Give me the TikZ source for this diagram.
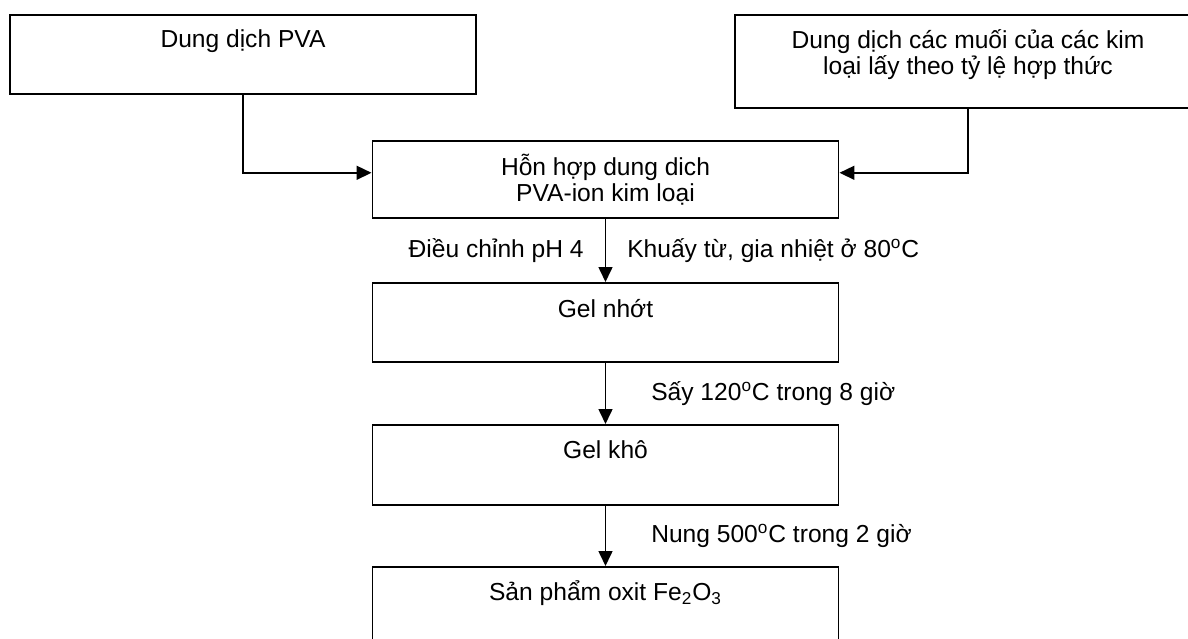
\documentclass[tikz,border=0pt]{standalone}
\usepackage{fontspec}
\setmainfont{Liberation Sans}
\usetikzlibrary{arrows.meta, positioning, calc}

\begin{document}
\begin{tikzpicture}[x=0.02cm, y=-0.02cm, >={Triangle[length=0.3cm, width=0.28cm]},
  every node/.style={font=\fontsize{14}{14.7}\selectfont},
  stage/.style={draw, line width=0.9pt, anchor=north, minimum width=9.33cm,
                inner xsep=0pt, inner ysep=0pt, align=center},
  note/.style={inner sep=0pt},
  flow/.style={->, line width=0.9pt}]
  \useasboundingbox (0,0) rectangle (1188,639);
  \clip (0,0) rectangle (1188,639);
  % inputs
  \node[stage, text height=0.66cm, text depth=0.92cm] (pva) at (243,14) {Dung dịch PVA};
  \node[stage, text height=1.20cm, text depth=0.66cm] (salt) at (968,14)
        {Dung dịch các muối của các kim\\loại lấy theo tỷ lệ hợp thức};
  % process chain
  \node[stage, text height=1.22cm, text depth=0.32cm] (mix) at (605.5,140)
        {Hỗn hợp dung dich\\PVA-ion kim loại};
  \node[stage, text height=0.70cm, text depth=0.88cm] (gel) at (605.5,282) {Gel nhớt};
  \node[stage, text height=0.68cm, text depth=0.92cm] (dry) at (605.5,424) {Gel khô};
  \node[stage, text height=0.68cm, text depth=0.92cm] (oxide) at (605.5,566)
        {Sản phẩm oxit Fe\textsubscript{2}O\textsubscript{3}};
  \draw[flow] (pva.south) |- ([yshift=0.13cm]mix.west);
  \draw[flow] (salt.south) |- ([yshift=0.13cm]mix.east);
  \draw[flow] (mix) -- node[note, midway, left=0.42cm] {Điều chỉnh pH 4}
        node[note, midway, right=0.42cm] {Khuấy từ, gia nhiệt ở 80\textsuperscript{o}C} (gel);
  \draw[flow] (gel) -- node[note, midway, right=0.9cm] {Sấy 120\textsuperscript{o}C trong 8 giờ} (dry);
  \draw[flow] (dry) -- node[note, midway, right=0.9cm] {Nung 500\textsuperscript{o}C trong 2 giờ} (oxide);
\end{tikzpicture}
\end{document}
